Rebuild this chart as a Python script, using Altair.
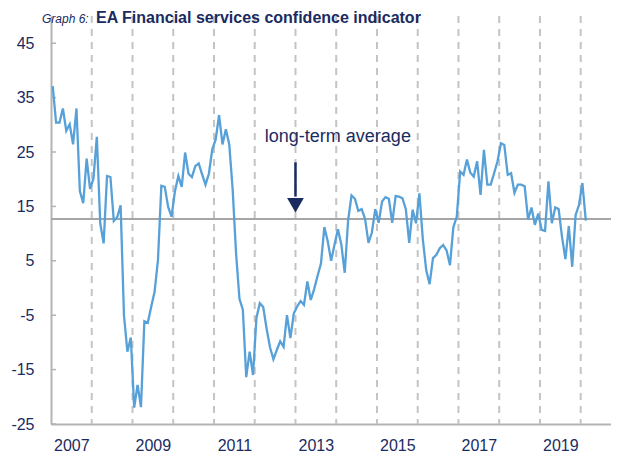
import altair as alt
import pandas as pd

# ---- data (monthly, Jan 2007 - Feb 2020) ----
v2007 = [37.1, 30.4, 30.4, 33.0, 28.9, 30.1, 26.4, 33.0, 17.8, 15.6, 23.8, 18.2]
v2008 = [20.1, 27.8, 11.9, 8.2, 20.6, 20.4, 12.3, 13.0, 15.2, -5.1, -11.7, -9.1]
v2009 = [-22.0, -17.8, -21.9, -6.1, -6.4, -3.5, -0.7, 5.1, 18.8, 18.6, 14.9, 13.1]
v2010 = [17.8, 20.6, 18.6, 24.9, 21.0, 20.4, 22.4, 22.9, 20.9, 19.0, 21.0, 25.5]
v2011 = [27.3, 31.8, 26.4, 29.2, 26.4, 18.1, 6.4, -2.0, -4.0, -16.4, -11.7, -16.0]
v2012 = [-5.5, -2.8, -3.5, -7.5, -10.9, -13.1, -11.4, -9.8, -10.8, -5.0, -9.2, -4.7]
v2013 = [-3.4, -2.4, -3.1, 1.2, -2.2, -0.2, 2.2, 4.5, 11.2, 8.6, 5.0, 8.0]
v2014 = [10.8, 8.0, 2.8, 12.4, 17.0, 16.4, 14.2, 14.5, 12.7, 8.3, 10.2, 14.5]
v2015 = [12.0, 15.9, 16.7, 16.4, 12.0, 16.9, 16.8, 16.5, 14.5, 8.3, 14.4, 11.9]
v2016 = [17.4, 9.0, 3.3, 0.7, 5.5, 6.1, 7.3, 7.9, 6.9, 4.2, 11.2, 13.1]
v2017 = [21.4, 20.8, 23.6, 21.2, 20.5, 23.3, 17.1, 25.4, 19.0, 19.0, 21.1, 23.3]
v2018 = [26.6, 26.3, 20.8, 21.1, 17.5, 19.0, 19.0, 18.7, 12.6, 14.8, 11.6, 13.7]
v2019 = [10.7, 10.5, 19.6, 11.9, 14.8, 14.5, 9.4, 5.3, 11.4, 3.9, 13.4, 15.3]
v2020 = [19.3, 12.4]

yearly = {2007: v2007, 2008: v2008, 2009: v2009, 2010: v2010, 2011: v2011,
          2012: v2012, 2013: v2013, 2014: v2014, 2015: v2015, 2016: v2016,
          2017: v2017, 2018: v2018, 2019: v2019, 2020: v2020}

label_years = [2007, 2009, 2011, 2013, 2015, 2017, 2019]
year_boundaries = list(range(2008, 2021))
y_ticks = [-25, -15, -5, 5, 15, 25, 35, 45]
long_term_average = 12.7

annotation = "long-term average"
title_prefix = "Graph 6:"
title_main = "EA Financial services confidence indicator"

# ---- tables ----
rows = []
for yr, vals in yearly.items():
    for m, v in enumerate(vals):
        rows.append({"t": yr + (m + 0.5) / 12.0, "value": v})
df = pd.DataFrame(rows)
df_grid = pd.DataFrame({"t": year_boundaries})
df_ticks = pd.DataFrame({"v": y_ticks})
df_avg = pd.DataFrame({"v": [long_term_average]})
df_arrow = pd.DataFrame({"t": [2013.0], "y1": [23.1], "y2": [16.8], "head": [15.2]})
df_label = pd.DataFrame({"t": [2014.04], "v": [26.8], "txt": [annotation]})
df_title = pd.DataFrame({"v": [48.75], "a": [title_prefix], "b": [title_main]})

NAVY = "#1a2b5f"
GREY = "#b4b4b4"
FONT = "Liberation Sans"

xs = alt.Scale(domain=[2007, 2020.94], nice=False, zero=False)
ys = alt.Scale(domain=[-25, 50], nice=False, zero=False)

X_AX = alt.Axis(values=[y + 0.5 for y in label_years],
                labelExpr="'' + floor(datum.value)", title=None,
                ticks=False, grid=False, domainColor=GREY,
                domainWidth=2, labelFont=FONT, labelFontSize=16,
                labelColor=NAVY, labelPadding=13)
Y_AX = alt.Axis(values=y_ticks, labelExpr="'' + datum.value",
                ticks=False, grid=False, title=None,
                domainColor=GREY, domainWidth=2, labelFont=FONT,
                labelFontSize=16, labelColor=NAVY, labelPadding=17)


def X(f):
    return alt.X(f, scale=xs, axis=X_AX)


def Y(f):
    return alt.Y(f, scale=ys, axis=Y_AX)


grid = alt.Chart(df_grid).mark_rule(
    color="#c4c4c4", strokeWidth=2, strokeDash=[7, 6]
).encode(x=X("t:Q"))

avg = alt.Chart(df_avg).mark_rule(color="#a6a6a6", strokeWidth=2).encode(y=Y("v:Q"))

yticks = alt.Chart(df_ticks).mark_rule(color=GREY, strokeWidth=1.5).encode(
    y=Y("v:Q"), x=alt.value(0), x2=alt.value(5)
)

line = alt.Chart(df).mark_line(color="#57a0d8", strokeWidth=2.3).encode(
    x=X("t:Q"), y=Y("value:Q")
)

arrow_shaft = alt.Chart(df_arrow).mark_rule(color=NAVY, strokeWidth=2.5).encode(
    x=X("t:Q"), y=Y("y1:Q"), y2="y2:Q"
)
arrow_head = alt.Chart(df_arrow).mark_point(
    shape="triangle-down", filled=True, color=NAVY, opacity=1, size=280
).encode(x=X("t:Q"), y=Y("head:Q"))

label = alt.Chart(df_label).mark_text(
    font=FONT, fontSize=18, color=NAVY, align="center", baseline="alphabetic"
).encode(x=X("t:Q"), y=Y("v:Q"), text="txt:N")

title_a = alt.Chart(df_title).mark_text(
    font=FONT, fontSize=12, fontStyle="italic", color=NAVY,
    align="left", baseline="alphabetic"
).encode(x=alt.value(-9), y=Y("v:Q"), text="a:N")
title_b = alt.Chart(df_title).mark_text(
    font=FONT, fontSize=16, fontWeight="bold", color=NAVY,
    align="left", baseline="alphabetic"
).encode(x=alt.value(45), y=Y("v:Q"), text="b:N")

chart = alt.layer(
    grid, avg, yticks, line, arrow_shaft, arrow_head, label, title_a, title_b
).properties(
    width=568, height=408,
    autosize=alt.AutoSizeParams(type="none"),
    padding={"left": 43, "top": 8, "right": -8, "bottom": 30},
).configure_view(stroke=None)

chart.save("out.html", embed_options={"renderer": "svg", "actions": False})
